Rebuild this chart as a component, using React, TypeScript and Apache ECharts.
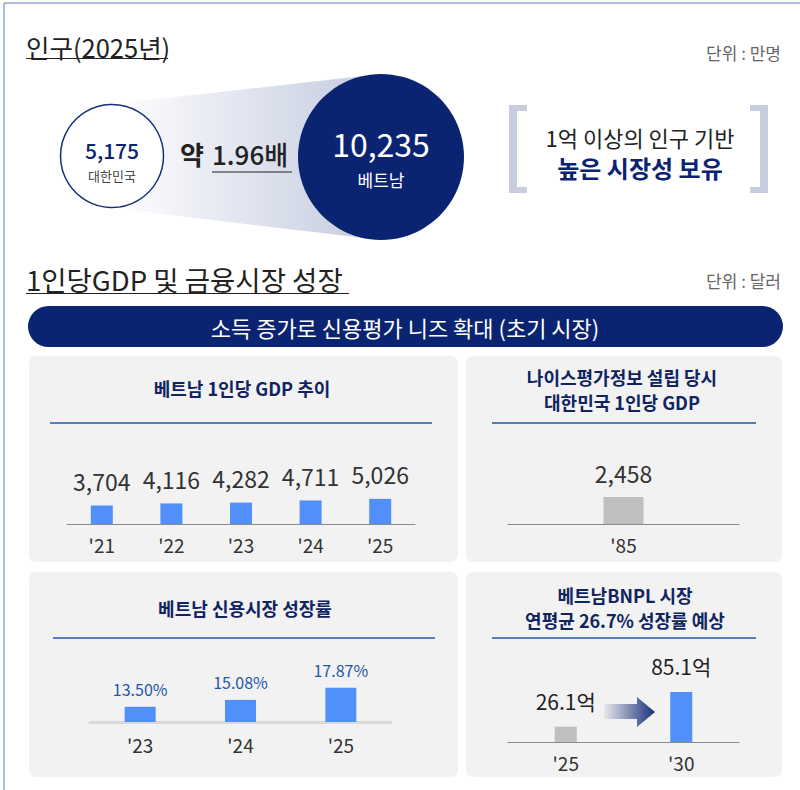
import React, { useEffect, useRef } from "react";
import * as echarts from "echarts";

const koreaPopulation = 5175;
const vietnamPopulation = 10235;
const populationRatio = 1.96;

const gdpYears = ["'21", "'22", "'23", "'24", "'25"];
const gdpValues = [3704, 4116, 4282, 4711, 5026];

const koreaYears = ["'85"];
const koreaGdp = [2458];

const creditYears = ["'23", "'24", "'25"];
const creditGrowth = [13.5, 15.08, 17.87];

const bnplYears = ["'25", "'30"];
const bnplValues = [26.1, 85.1];

const FONT = '"Noto Sans CJK KR", "Noto Sans", sans-serif';
const NAVY = "#0a2472";
const TITLE_NAVY = "#0f2460";
const BLUE_BAR = "#5190fb";
const GRAY_BAR = "#bfbfbf";

function txt(text: string, x: number, y: number, size: number, color: string, align = "center", weight: any = "normal", extra: any = {}) {
  return {
    type: "text",
    silent: true,
    z: 10,
    style: {
      text,
      x,
      y,
      fill: color,
      fontSize: size,
      fontFamily: FONT,
      fontWeight: weight,
      align,
      verticalAlign: "middle",
      textAlign: align,
      textVerticalAlign: "middle",
      ...extra,
    },
  };
}

function rect(x: number, y: number, w: number, h: number, fill: string, r = 0, z = 1) {
  return { type: "rect", silent: true, z, shape: { x, y, width: w, height: h, r }, style: { fill } };
}

function line(x1: number, y1: number, x2: number, y2: number, stroke: string, lw = 1, z = 5) {
  return { type: "line", silent: true, z, shape: { x1, y1, x2, y2 }, style: { stroke, lineWidth: lw } };
}

const fmt = (v: number) => v.toLocaleString("en-US");

export default function App() {
  const ref = useRef<HTMLDivElement>(null);
  useEffect(() => {
    if (!ref.current) return;
    const chart = echarts.init(ref.current, undefined, { renderer: "svg" });

    const funnel = new echarts.graphic.LinearGradient(0, 0, 1, 0, [
      { offset: 0, color: "#ffffff" },
      { offset: 1, color: "#c3cadf" },
    ]);
    const arrowGrad = new echarts.graphic.LinearGradient(0, 0, 1, 0, [
      { offset: 0, color: "rgba(26,47,122,0.05)" },
      { offset: 1, color: "#1a2f7a" },
    ]);

    const graphics: any[] = [
      // frame
      { type: "rect", silent: true, z: 0, shape: { x: 4, y: 3, width: 810, height: 800 }, style: { fill: "none", stroke: "#5b7dc0", lineWidth: 1 } },
      // section 1
      txt("인구(2025년)", 26, 46, 25.5, "#222", "left"),
      line(26, 58.5, 168, 58.5, "#222", 1.2),
      txt("단위 : 만명", 781, 52, 17, "#666", "right"),
      { type: "polygon", silent: true, z: 2, shape: { points: [[112, 104], [381, 74], [381, 240], [112, 208]] }, style: { fill: funnel } },
      { type: "circle", silent: true, z: 3, shape: { cx: 112, cy: 156, r: 51.5 }, style: { fill: "#ffffff", stroke: "#1a2f7a", lineWidth: 1.5 } },
      txt(fmt(koreaPopulation), 112, 150, 21, NAVY, "center", 500),
      txt("대한민국", 112, 175, 13, "#444"),
      { type: "circle", silent: true, z: 3, shape: { cx: 381, cy: 157, r: 83 }, style: { fill: NAVY } },
      txt(fmt(vietnamPopulation), 381, 143, 32, "#ffffff"),
      txt("베트남", 381, 179, 17, "#ffffff"),
      txt("약", 180, 153, 26, "#222", "left", "bold"),
      txt(populationRatio.toFixed(2) + "배", 212, 153, 26, "#222", "left", 500),
      line(212, 172, 292, 172, "#222", 1.2),
      // brackets
      rect(509, 105, 8, 88, "#c8cee0", 0, 2),
      rect(509, 105, 18, 6, "#c8cee0", 0, 2),
      rect(509, 187, 18, 6, "#c8cee0", 0, 2),
      rect(760, 105, 8, 88, "#c8cee0", 0, 2),
      rect(750, 105, 18, 6, "#c8cee0", 0, 2),
      rect(750, 187, 18, 6, "#c8cee0", 0, 2),
      txt("1억 이상의 인구 기반", 640, 137, 22, "#222"),
      txt("높은 시장성 보유", 640, 167, 24, NAVY, "center", "bold"),
      // section 2
      txt("1인당GDP 및 금융시장 성장", 26, 279, 27.5, "#222", "left"),
      line(26, 293.5, 349, 293.5, "#222", 1.2),
      txt("단위 : 달러", 781, 280, 17, "#666", "right"),
      rect(28, 306, 755, 41, NAVY, 20.5, 2),
      txt("소득 증가로 신용평가 니즈 확대 (초기 시장)", 405, 327, 22, "#ffffff"),
      // panels
      rect(29, 356, 429, 206, "#f2f2f2", 7, 1),
      rect(466, 356, 316, 206, "#f2f2f2", 7, 1),
      rect(29, 572, 429, 205, "#f2f2f2", 7, 1),
      rect(466, 572, 316, 205, "#f2f2f2", 7, 1),
      txt("베트남 1인당 GDP 추이", 242, 388, 18, TITLE_NAVY, "center", "bold"),
      line(50, 423, 432, 423, "#2456a8", 1.5),
      txt("나이스평가정보 설립 당시", 622, 377, 18, TITLE_NAVY, "center", "bold"),
      txt("대한민국 1인당 GDP", 622, 402, 18, TITLE_NAVY, "center", "bold"),
      line(492, 423, 756, 423, "#2456a8", 1.5),
      txt("베트남 신용시장 성장률", 245, 608, 18, TITLE_NAVY, "center", "bold"),
      line(53, 638, 435, 638, "#2456a8", 1.5),
      txt("베트남BNPL 시장", 625, 595, 18, TITLE_NAVY, "center", "bold"),
      txt("연평균 26.7% 성장률 예상", 625, 620, 18, TITLE_NAVY, "center", "bold"),
      line(492, 638, 756, 638, "#2456a8", 1.5),
      // arrow
      {
        type: "polygon",
        silent: true,
        z: 6,
        shape: { points: [[604, 704], [637, 704], [637, 697], [655, 712], [637, 727], [637, 719], [604, 719]] },
        style: { fill: arrowGrad },
      },
    ];

    const catAxis = (idx: number, data: string[], size: number, margin: number, lineColor: string, lw: number) => ({
      type: "category",
      gridIndex: idx,
      data,
      z: 5,
      axisTick: { show: false },
      axisLine: { show: true, onZero: false, lineStyle: { color: lineColor, width: lw } },
      axisLabel: { color: "#333", fontSize: size, fontFamily: FONT, margin },
    });
    const valAxis = (idx: number, min: number, max: number) => ({
      type: "value",
      gridIndex: idx,
      min,
      max,
      show: false,
      splitLine: { show: false },
    });

    chart.setOption({
      animation: false,
      graphic: graphics,
      grid: [
        { left: 67, width: 348, top: 424, height: 100 },
        { left: 508, width: 231, top: 424, height: 100 },
        { left: 90, width: 301, top: 622, height: 100 },
        { left: 508, width: 231, top: 642, height: 100 },
      ],
      xAxis: [
        catAxis(0, gdpYears, 19, 11, "#8c8c8c", 1),
        catAxis(1, koreaYears, 19, 11, "#8c8c8c", 1),
        catAxis(2, creditYears, 19, 13, "#d9d9d9", 3),
        catAxis(3, bnplYears, 19, 11, "#8c8c8c", 1),
      ],
      yAxis: [valAxis(0, 0, 20000), valAxis(1, 0, 9100), valAxis(2, 10, 33), valAxis(3, 0, 170)],
      series: [
        {
          type: "bar",
          xAxisIndex: 0,
          yAxisIndex: 0,
          z: 6,
          data: gdpValues,
          barWidth: 22,
          itemStyle: { color: BLUE_BAR },
          label: { show: true, position: "top", distance: 13, formatter: (p: any) => fmt(p.value), fontSize: 23, color: "#333", fontFamily: FONT },
        },
        {
          type: "bar",
          xAxisIndex: 1,
          yAxisIndex: 1,
          z: 6,
          data: koreaGdp,
          barWidth: 40,
          itemStyle: { color: GRAY_BAR },
          label: { show: true, position: "top", distance: 12, formatter: (p: any) => fmt(p.value), fontSize: 23, color: "#333", fontFamily: FONT },
        },
        {
          type: "bar",
          xAxisIndex: 2,
          yAxisIndex: 2,
          z: 6,
          data: creditGrowth,
          barWidth: 31,
          itemStyle: { color: BLUE_BAR },
          label: { show: true, position: "top", distance: 10, formatter: (p: any) => p.value.toFixed(2) + "%", fontSize: 16, color: "#2456a8", fontFamily: FONT },
        },
        {
          type: "bar",
          xAxisIndex: 3,
          yAxisIndex: 3,
          z: 6,
          data: bnplValues.map((v, i) => ({ value: v, itemStyle: { color: i === 0 ? GRAY_BAR : BLUE_BAR } })),
          barWidth: 22,
          label: { show: true, position: "top", distance: 15, formatter: (p: any) => p.value + "억", fontSize: 21, color: "#222", fontFamily: FONT },
        },
      ],
    });
    return () => chart.dispose();
  }, []);
  return <div ref={ref} style={{ position: "fixed", left: 0, top: 0, width: 800, height: 790, background: "#fff" }} />;
}
